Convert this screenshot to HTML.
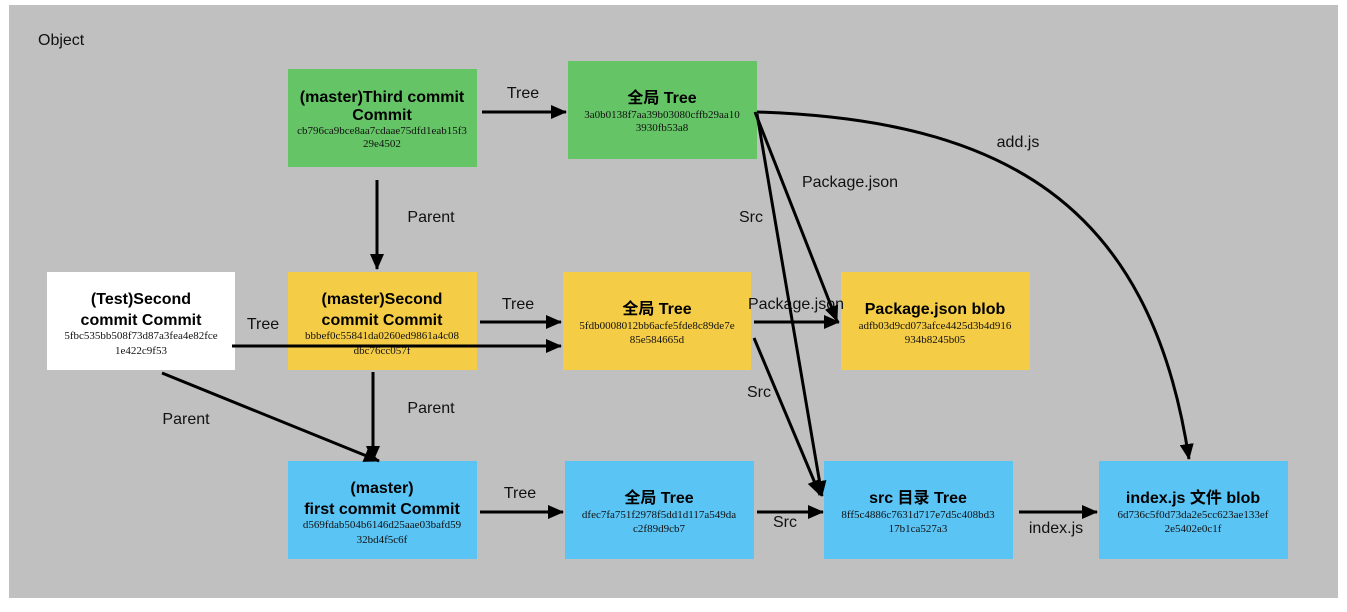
<!DOCTYPE html>
<html><head><meta charset="utf-8"><style>
html,body{margin:0;padding:0;background:#fff;}
svg{display:block;}
.t{font-family:"Liberation Sans","Noto Sans CJK SC",sans-serif;font-weight:bold;font-size:16px;fill:#000;text-anchor:middle;}
.h{font-family:"Liberation Serif",serif;font-size:11px;fill:#111;text-anchor:middle;}
.l{font-family:"Liberation Sans","Noto Sans CJK SC",sans-serif;font-size:16px;fill:#111;text-anchor:middle;}
line,path{stroke:#000;stroke-width:3;fill:none;}
</style></head><body>
<svg width="1347" height="612" viewBox="0 0 1347 612">
<defs><marker id="a" markerWidth="8" markerHeight="8" refX="7" refY="4" orient="auto" markerUnits="userSpaceOnUse" viewBox="0 0 8 8"><path d="M0,0 L8,4 L0,8 z" style="fill:#000;stroke:none"/></marker>
<marker id="b" markerWidth="16" markerHeight="14" refX="15" refY="7" orient="auto" markerUnits="userSpaceOnUse"><path d="M0,0 L16,7 L0,14 z" style="fill:#000;stroke:none"/></marker></defs>
<rect x="9" y="5" width="1329" height="593" fill="#c0c0c0"/>
<text x="38" y="45" class="l" style="text-anchor:start">Object</text>

<rect x="288" y="69" width="189" height="98" fill="#65c466"/>
<text x="382" y="102" class="t">(master)Third commit</text><text x="382" y="120" class="t">Commit</text>
<text x="382" y="134" class="h">cb796ca9bce8aa7cdaae75dfd1eab15f3</text><text x="382" y="147" class="h">29e4502</text>

<rect x="568" y="61" width="189" height="98" fill="#65c466"/>
<text x="662" y="103" class="t">全局 Tree</text>
<text x="662" y="118" class="h">3a0b0138f7aa39b03080cffb29aa10</text><text x="662" y="131" class="h">3930fb53a8</text>

<rect x="47" y="272" width="188" height="98" fill="#fff"/>
<text x="141" y="304" class="t">(Test)Second</text><text x="141" y="325" class="t">commit Commit</text>
<text x="141" y="339" class="h">5fbc535bb508f73d87a3fea4e82fce</text><text x="141" y="354" class="h">1e422c9f53</text>

<rect x="288" y="272" width="189" height="98" fill="#f5cc45"/>
<text x="382" y="304" class="t">(master)Second</text><text x="382" y="325" class="t">commit Commit</text>
<text x="382" y="339" class="h">bbbef0c55841da0260ed9861a4c08</text><text x="382" y="354" class="h">dbc76cc057f</text>

<rect x="563" y="272" width="188" height="98" fill="#f5cc45"/>
<text x="657" y="314" class="t">全局 Tree</text>
<text x="657" y="329" class="h">5fdb0008012bb6acfe5fde8c89de7e</text><text x="657" y="343" class="h">85e584665d</text>

<rect x="841" y="272" width="189" height="98" fill="#f5cc45"/>
<text x="935" y="314" class="t">Package.json blob</text>
<text x="935" y="329" class="h">adfb03d9cd073afce4425d3b4d916</text><text x="935" y="343" class="h">934b8245b05</text>

<rect x="288" y="461" width="189" height="98" fill="#5ac4f5"/>
<text x="382" y="493" class="t">(master)</text><text x="382" y="514" class="t">first commit Commit</text>
<text x="382" y="528" class="h">d569fdab504b6146d25aae03bafd59</text><text x="382" y="543" class="h">32bd4f5c6f</text>

<rect x="565" y="461" width="189" height="98" fill="#5ac4f5"/>
<text x="659" y="503" class="t">全局 Tree</text>
<text x="659" y="518" class="h">dfec7fa751f2978f5dd1d117a549da</text><text x="659" y="532" class="h">c2f89d9cb7</text>

<rect x="824" y="461" width="189" height="98" fill="#5ac4f5"/>
<text x="918" y="503" class="t">src 目录 Tree</text>
<text x="918" y="518" class="h">8ff5c4886c7631d717e7d5c408bd3</text><text x="918" y="532" class="h">17b1ca527a3</text>

<rect x="1099" y="461" width="189" height="98" fill="#5ac4f5"/>
<text x="1193" y="503" class="t">index.js 文件 blob</text>
<text x="1193" y="518" class="h">6d736c5f0d73da2e5cc623ae133ef</text><text x="1193" y="532" class="h">2e5402e0c1f</text>

<line x1="482" y1="112" x2="566" y2="112" marker-end="url(#b)"/>
<text x="523" y="98" class="l">Tree</text>
<line x1="377" y1="180" x2="377" y2="269" marker-end="url(#b)"/>
<text x="431" y="222" class="l">Parent</text>
<line x1="480" y1="322" x2="561" y2="322" marker-end="url(#b)"/>
<text x="518" y="309" class="l">Tree</text>
<line x1="232" y1="346" x2="561" y2="346" marker-end="url(#b)"/>
<text x="263" y="329" class="l">Tree</text>
<line x1="373" y1="372" x2="373" y2="461" marker-end="url(#b)"/>
<text x="431" y="413" class="l">Parent</text>
<line x1="162" y1="373" x2="379" y2="461" marker-end="url(#b)"/>
<text x="186" y="424" class="l">Parent</text>
<line x1="480" y1="512" x2="563" y2="512" marker-end="url(#b)"/>
<text x="520" y="498" class="l">Tree</text>
<line x1="757" y1="512" x2="823" y2="512" marker-end="url(#b)"/>
<text x="785" y="527" class="l">Src</text>
<line x1="1019" y1="512" x2="1097" y2="512" marker-end="url(#b)"/>
<text x="1056" y="533" class="l">index.js</text>
<line x1="754" y1="322" x2="839" y2="322" marker-end="url(#b)"/>
<text x="796" y="309" class="l">Package.json</text>
<line x1="754" y1="338" x2="820" y2="495" marker-end="url(#b)"/>
<text x="759" y="397" class="l">Src</text>
<line x1="755" y1="112" x2="837" y2="321" marker-end="url(#b)"/>
<text x="850" y="187" class="l">Package.json</text>
<line x1="757" y1="114" x2="822" y2="496" marker-end="url(#b)"/>
<text x="751" y="222" class="l">Src</text>
<path d="M757,112 C1000,120 1150,200 1189,459" marker-end="url(#b)"/>
<text x="1018" y="147" class="l">add.js</text>
</svg>
</body></html>
